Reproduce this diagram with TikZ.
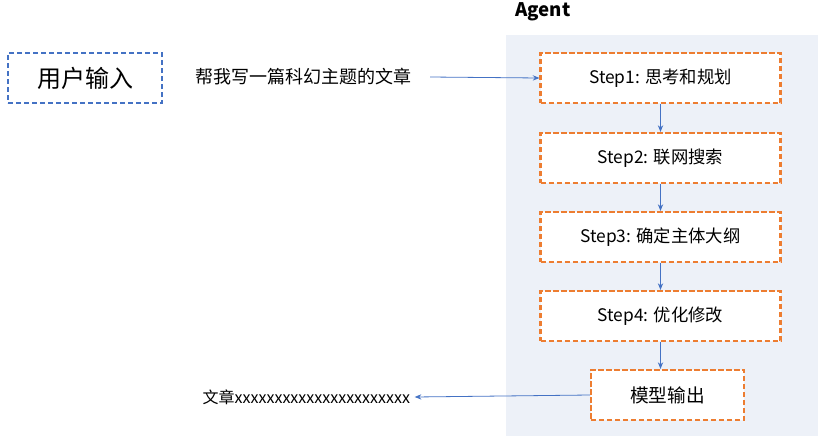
\documentclass[tikz,border=0pt]{standalone}
\usepackage{fontspec}
\setmainfont{Noto Sans CJK SC}
\usetikzlibrary{arrows.meta}
\definecolor{panel}{HTML}{EDF1F8}
\definecolor{orng}{HTML}{ED7D31}
\definecolor{bl}{HTML}{4472C4}
\begin{document}
\begin{tikzpicture}[x=0.75pt,y=-0.75pt,
  ob/.style={draw=orng,dash pattern=on 4pt off 2pt,line width=1.6pt,fill=white,font=\fontsize{13}{15}\selectfont,inner sep=0pt},
  ar/.style={draw=bl,-{Stealth[length=5pt,width=4pt]},line width=0.6pt}]
\useasboundingbox (0,0) rectangle (828,436);
\fill[panel] (506,35) rectangle (818,436);
\node[font=\bfseries\fontsize{14}{16}\selectfont] (ag) at (543,12) {Agent};
\node[draw=bl,dash pattern=on 4pt off 2pt,line width=1.6pt,minimum width=154pt*0.75,minimum height=50pt*0.75,font=\fontsize{18}{20}\selectfont] (u) at (85,78) {用户输入};
\node[font=\fontsize{13.5}{15}\selectfont] (q) at (303,77) {帮我写一篇科幻主题的文章};
\node[ob,minimum width=180pt,minimum height=37.5pt] (s1) at (660.5,78) {Step1: 思考和规划};
\node[ob,minimum width=180pt,minimum height=37.5pt] (s2) at (660.5,158) {Step2: 联网搜索};
\node[ob,minimum width=180pt,minimum height=37.5pt] (s3) at (660.5,237) {Step3: 确定主体大纲};
\node[ob,minimum width=180pt,minimum height=37.5pt] (s4) at (660.5,316) {Step4: 优化修改};
\node[ob,minimum width=115pt,minimum height=37.5pt,font=\fontsize{14}{16}\selectfont] (o) at (667.5,395) {模型输出};
\node[font=\fontsize{12}{14}\selectfont,anchor=west] (r) at (198,397) {文章xxxxxxxxxxxxxxxxxxxxxx};
\coordinate (qa) at (430,77);
\draw[ar] (qa) -- (s1.west);
\draw[ar] (s1) -- (s2);
\draw[ar] (s2) -- (s3);
\draw[ar] (s3) -- (s4);
\draw[ar] (s4.south) -- (s4.south|-o.north);
\draw[ar] (o.west) -- (r.east);
\end{tikzpicture}
\end{document}
